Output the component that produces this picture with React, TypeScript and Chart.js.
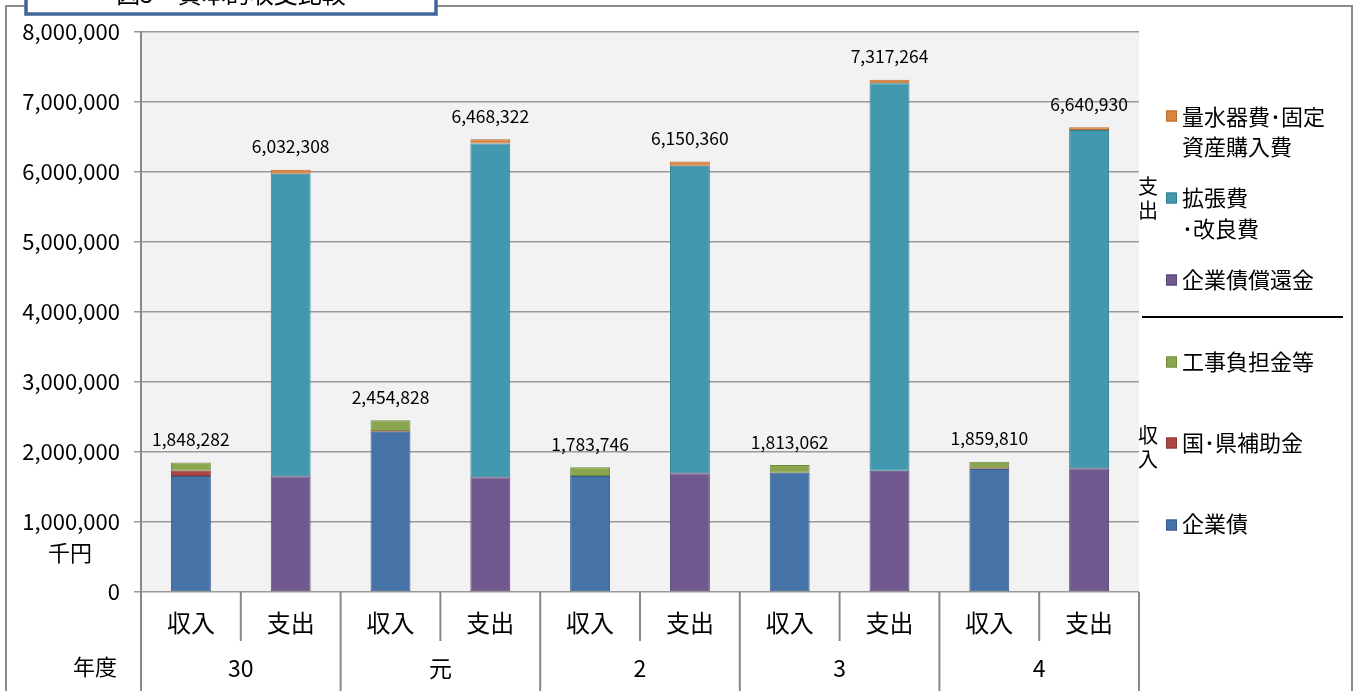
import React, { useEffect, useRef } from 'react';
import { Chart, registerables } from 'chart.js';

Chart.register(...registerables);

// ---- data ----
const CATEGORIES = ['収入', '支出', '収入', '支出', '収入', '支出', '収入', '支出', '収入', '支出'];
const YEARS = ['30', '元', '2', '3', '4'];
const BOND = [1657000, null, 2290000, null, 1657000, null, 1705000, null, 1757000, null];
const SUBSIDY = [76000, null, 10000, null, 0, null, 0, null, 10000, null];
const CONTRIB = [115282, null, 154828, null, 126746, null, 108062, null, 92810, null];
const REDEMPTION = [null, 1653000, null, 1640000, null, 1695000, null, 1733000, null, 1767000];
const EXPANSION = [null, 4322308, null, 4768322, null, 4395360, null, 5534264, null, 4833930];
const METER = [null, 57000, null, 60000, null, 60000, null, 50000, null, 40000];
const Y_MIN = 0;
const Y_MAX = 8000000;
const Y_STEP = 1000000;
const TITLE = '図5　資本的収支比較';
const UNIT = '千円';
const YEAR_AXIS = '年度';

const FONT = '"Noto Sans CJK JP", "Noto Sans", sans-serif';

const C = {
  blue: ['#4572A7', '#385D8A'],
  red: ['#AA4643', '#8C3836'],
  green: ['#89A54E', '#71893F'],
  purple: ['#71588F', '#5C4776'],
  teal: ['#4198AF', '#357D91'],
  orange: ['#DB843D', '#B66D31'],
};

const decor = {
  id: 'decor',
  beforeDraw(chart: any) {
    const { ctx, chartArea: a } = chart;
    ctx.save();
    ctx.fillStyle = '#ffffff';
    ctx.fillRect(0, 0, chart.width, chart.height);
    ctx.fillStyle = '#F2F2F2';
    ctx.fillRect(a.left, a.top, a.right - a.left, a.bottom - a.top);
    ctx.restore();
  },
  afterDraw(chart: any) {
    const { ctx, chartArea: a } = chart;
    const xs = chart.scales.x;
    const ys = chart.scales.y;
    ctx.save();

    // outer frame
    ctx.strokeStyle = '#8c8c8c';
    ctx.lineWidth = 2;
    ctx.beginPath();
    ctx.moveTo(6, 691);
    ctx.lineTo(6, 6);
    ctx.lineTo(1352, 6);
    ctx.lineTo(1352, 691);
    ctx.stroke();

    // title box
    ctx.fillStyle = '#ffffff';
    ctx.fillRect(25, -20, 412, 35);
    ctx.strokeStyle = '#41679a';
    ctx.lineWidth = 3.5;
    ctx.strokeRect(26, -20, 410, 34);
    ctx.fillStyle = '#000';
    ctx.font = `24px ${FONT}`;
    ctx.textAlign = 'center';
    ctx.textBaseline = 'alphabetic';
    ctx.fillText(TITLE, 231, 3);

    // category separators
    const n = CATEGORIES.length;
    const px = (i: number) => xs.getPixelForValue(i);
    ctx.strokeStyle = '#888';
    ctx.lineWidth = 2;
    for (let k = 0; k <= n; k++) {
      let x: number;
      if (k === 0) x = a.left;
      else if (k === n) x = a.right;
      else x = (px(k - 1) + px(k)) / 2;
      const yEnd = k % 2 === 0 ? 691 : 641;
      ctx.beginPath();
      ctx.moveTo(x, a.bottom);
      ctx.lineTo(x, yEnd);
      ctx.stroke();
    }

    // category labels
    ctx.fillStyle = '#000';
    ctx.textAlign = 'center';
    ctx.textBaseline = 'middle';
    ctx.font = `24px ${FONT}`;
    CATEGORIES.forEach((c, i) => ctx.fillText(c, px(i), 623));

    // year labels
    ctx.font = `23px ${FONT}`;
    ctx.textBaseline = 'alphabetic';
    YEARS.forEach((y, g) => {
      const x = (px(g * 2) + px(g * 2 + 1)) / 2;
      ctx.fillText(y, x, 677);
    });

    ctx.font = `22px ${FONT}`;
    ctx.textBaseline = 'middle';
    ctx.fillText(YEAR_AXIS, 95, 667);
    ctx.fillText(UNIT, 70, 553);

    // totals
    ctx.font = `17.5px ${FONT}`;
    for (let i = 0; i < n; i++) {
      let total = 0;
      chart.data.datasets.forEach((ds: any) => {
        const v = ds.data[i];
        if (v != null) total += v;
      });
      const y = ys.getPixelForValue(total) - 23;
      ctx.fillText(total.toLocaleString('en-US'), px(i), y);
    }

    // legend
    const sq = (y: number, col: string[]) => {
      ctx.fillStyle = col[0];
      ctx.fillRect(1166, y - 5.5, 11, 11);
      ctx.strokeStyle = col[1];
      ctx.lineWidth = 1;
      ctx.strokeRect(1166.5, y - 5, 10, 10);
    };
    ctx.textAlign = 'left';
    ctx.textBaseline = 'middle';
    ctx.font = `22px ${FONT}`;
    sq(116, C.orange);
    ctx.fillStyle = '#000';
    ctx.fillText(chart.data.datasets[5].label[0], 1182, 117);
    ctx.fillText(chart.data.datasets[5].label[1], 1182, 147);
    sq(198, C.teal);
    ctx.fillStyle = '#000';
    ctx.fillText(chart.data.datasets[4].label[0], 1182, 198);
    ctx.fillText(chart.data.datasets[4].label[1], 1182, 229);
    sq(280, C.purple);
    ctx.fillStyle = '#000';
    ctx.fillText(chart.data.datasets[3].label, 1182, 280);
    sq(362, C.green);
    ctx.fillStyle = '#000';
    ctx.fillText(chart.data.datasets[2].label, 1182, 362);
    sq(443, C.red);
    ctx.fillStyle = '#000';
    ctx.fillText(chart.data.datasets[1].label, 1182, 443);
    sq(525, C.blue);
    ctx.fillStyle = '#000';
    ctx.fillText(chart.data.datasets[0].label, 1182, 524);

    // group labels
    ctx.textAlign = 'center';
    ctx.font = `20px ${FONT}`;
    ctx.fillText('支', 1148, 186);
    ctx.fillText('出', 1148, 210);
    ctx.fillText('収', 1148, 435);
    ctx.fillText('入', 1148, 459);

    // separator
    ctx.strokeStyle = '#000';
    ctx.lineWidth = 2;
    ctx.beginPath();
    ctx.moveTo(1142, 317);
    ctx.lineTo(1343, 317);
    ctx.stroke();

    ctx.restore();
  },
};

function ds(label: any, data: any[], col: string[]) {
  return {
    label,
    data,
    backgroundColor: col[0],
    borderColor: col[1],
    borderWidth: 1,
    borderSkipped: false,
    barPercentage: 0.4,
    categoryPercentage: 1.0,
  };
}

export default function App() {
  const ref = useRef<HTMLCanvasElement>(null);
  useEffect(() => {
    if (!ref.current) return;
    const chart = new Chart(ref.current, {
      type: 'bar',
      data: {
        labels: CATEGORIES,
        datasets: [
          ds('企業債', BOND, C.blue),
          ds('国･県補助金', SUBSIDY, C.red),
          ds('工事負担金等', CONTRIB, C.green),
          ds('企業債償還金', REDEMPTION, C.purple),
          ds(['拡張費', '･改良費'], EXPANSION, C.teal),
          ds(['量水器費･固定', '資産購入費'], METER, C.orange),
        ] as any,
      },
      options: {
        responsive: false,
        animation: false,
        layout: { padding: { left: 0, top: 32, right: 221, bottom: 0 } },
        plugins: { legend: { display: false }, tooltip: { enabled: false } },
        scales: {
          x: {
            stacked: true,
            grid: { display: false },
            border: { display: false },
            ticks: { display: false },
            afterFit: (s: any) => { s.height = 99; },
          },
          y: {
            stacked: true,
            min: Y_MIN,
            max: Y_MAX,
            border: { display: true, color: '#888', width: 2 },
            grid: { color: '#999', lineWidth: 1.5, tickLength: 7, drawTicks: true },
            ticks: {
              stepSize: Y_STEP,
              color: '#000',
              padding: 14,
              font: { size: 22, family: FONT },
              callback: (v: any) => Number(v).toLocaleString('en-US'),
            },
            afterFit: (s: any) => { s.width = 141; },
          },
        },
      } as any,
      plugins: [decor],
    });
    return () => chart.destroy();
  }, []);
  return (
    <div style={{ position: 'fixed', left: 0, top: 0, width: 1360, height: 691, background: '#fff' }}>
      <canvas ref={ref} width={1360} height={691} style={{ display: 'block' }} />
    </div>
  );
}
